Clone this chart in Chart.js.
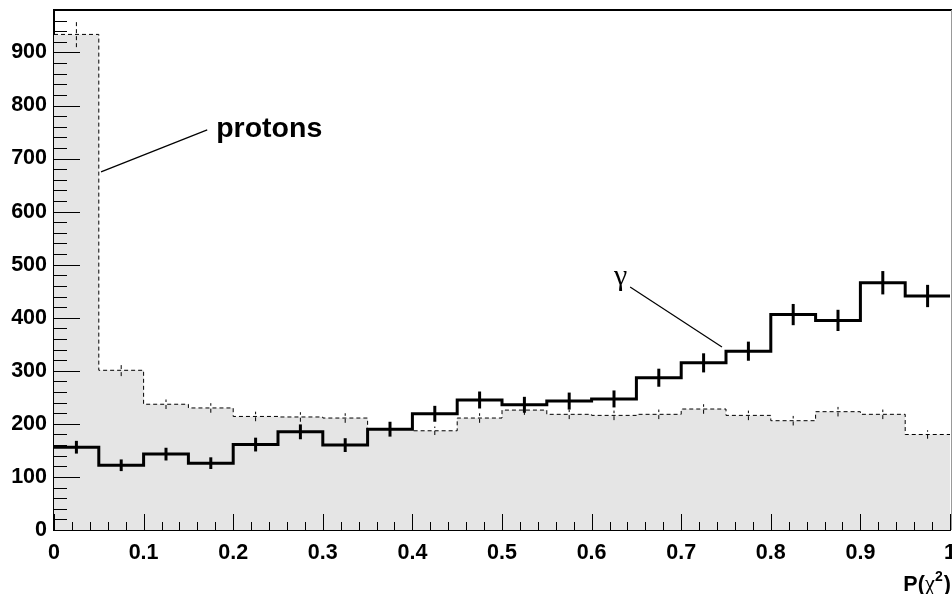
<!DOCTYPE html>
<html>
<head>
<meta charset="utf-8">
<script src="https://cdn.jsdelivr.net/npm/chart.js@4.4.1/dist/chart.umd.min.js"></script>
<style>
  html, body { margin: 0; padding: 0; background: #fff; }
  .chart__box { width: 952px; height: 594px; }
</style>
</head>
<body>
<div class="chart__box"><canvas id="chart__1"></canvas></div>
<script>
"use strict";

// ** Data
const binEdges = [0, 0.05, 0.1, 0.15, 0.2, 0.25, 0.3, 0.35, 0.4, 0.45, 0.5,
  0.55, 0.6, 0.65, 0.7, 0.75, 0.8, 0.85, 0.9, 0.95, 1];
const protonCounts = [934, 301, 237, 230, 214, 213, 211, 191, 187, 211,
  226, 218, 216, 218, 228, 216, 206, 223, 218, 180];
const protonErrors = [24, 11, 9, 9, 9, 9, 9, 8, 8, 9,
  9, 9, 9, 9, 9, 9, 9, 9, 9, 8];
const gammaCounts = [156, 122, 143, 126, 161, 185, 160, 190, 219, 245,
  236, 243, 247, 287, 315, 337, 406, 395, 466, 441];
const gammaErrors = [12, 11, 12, 11, 13, 14, 13, 14, 15, 16,
  15, 16, 16, 17, 18, 18, 20, 20, 22, 21];
const yMax = 980;
const xTitle = ["P(", "\u03c7", "2", ")"];

const boldFont = "bold 21.5px 'Liberation Sans', Arial, sans-serif";

// ** Functions

function stepPoints(counts) {
  const pts = [];
  counts.forEach((v, i) => {
    pts.push({ x: binEdges[i], y: v });
    pts.push({ x: binEdges[i + 1], y: v });
  });
  return pts;
}

function seg(ctx, x1, y1, x2, y2) {
  ctx.beginPath();
  ctx.moveTo(x1, y1);
  ctx.lineTo(x2, y2);
  ctx.stroke();
}

// error bars at bin centres
const errorBars = {
  id: "errorBars",
  afterDatasetsDraw(chart) {
    const { ctx, scales } = chart;
    const sets = [
      { counts: protonCounts, errs: protonErrors, width: 1, dash: [4, 3] },
      { counts: gammaCounts, errs: gammaErrors, width: 3, dash: [] },
    ];
    ctx.save();
    ctx.strokeStyle = "#000";
    sets.forEach((s) => {
      ctx.lineWidth = s.width;
      ctx.setLineDash(s.dash);
      s.counts.forEach((v, i) => {
        const xc = scales.x.getPixelForValue((binEdges[i] + binEdges[i + 1]) / 2);
        seg(ctx, xc, scales.y.getPixelForValue(v - s.errs[i]), xc, scales.y.getPixelForValue(v + s.errs[i]));
      });
    });
    ctx.restore();
  },
};

// ROOT style ticks pointing into the frame, frame and labels
const frameStuff = {
  id: "frameStuff",
  afterDatasetsDraw(chart) {
    const { ctx, chartArea, scales } = chart;
    const { left, right, top, bottom } = chartArea;
    ctx.save();
    ctx.strokeStyle = "#000";
    ctx.lineWidth = 1;
    for (let i = 0; i * 20 <= yMax; i++) {
      const y = Math.round(scales.y.getPixelForValue(i * 20)) + 0.5;
      seg(ctx, left, y, left + (i % 5 === 0 ? 26 : 13), y);
    }
    for (let i = 0; i <= 50; i++) {
      const x = Math.round(scales.x.getPixelForValue(i / 50)) + 0.5;
      seg(ctx, x, bottom, x, bottom - (i % 5 === 0 ? 16 : 8));
    }
    // frame
    ctx.lineWidth = 2;
    seg(ctx, left, top, chart.width, top);
    ctx.lineWidth = 1;
    ctx.strokeStyle = "#999";
    seg(ctx, chart.width - 0.5, top, chart.width - 0.5, bottom);

    // annotations
    ctx.strokeStyle = "#000";
    ctx.lineWidth = 1.2;
    const px = (v) => scales.x.getPixelForValue(v);
    const py = (v) => scales.y.getPixelForValue(v);
    seg(ctx, px(0.0525), py(675), px(0.171), py(754));
    seg(ctx, px(0.643), py(458), px(0.7455), py(345));
    ctx.fillStyle = "#000";
    ctx.textBaseline = "alphabetic";
    ctx.textAlign = "left";
    ctx.font = "bold 28.5px 'Liberation Sans', Arial, sans-serif";
    ctx.fillText("protons", px(0.181), py(740));
    ctx.font = "30px 'Liberation Serif', 'Times New Roman', serif";
    ctx.fillText("\u03b3", px(0.625), py(462));

    // axis title, right aligned
    let xr = chart.width - 1;
    const yb = 591;
    ctx.textAlign = "right";
    ctx.font = boldFont;
    ctx.fillText(xTitle[3], xr, yb);
    xr -= ctx.measureText(xTitle[3]).width;
    ctx.font = "bold 14px 'Liberation Sans', Arial, sans-serif";
    ctx.fillText(xTitle[2], xr - 1, yb - 10);
    xr -= ctx.measureText(xTitle[2]).width + 1;
    ctx.font = "23px 'Liberation Serif', 'Times New Roman', serif";
    ctx.fillText(xTitle[1], xr, yb);
    xr -= ctx.measureText(xTitle[1]).width;
    ctx.font = boldFont;
    ctx.fillText(xTitle[0], xr, yb);
    ctx.restore();
  },
};

const config = {
  type: "line",
  data: {
    datasets: [
      {
        label: "gamma",
        data: stepPoints(gammaCounts),
        borderColor: "#000",
        borderWidth: 3,
        fill: false,
        order: 0,
      },
      {
        label: "protons",
        data: stepPoints(protonCounts),
        borderColor: "#000",
        borderWidth: 1,
        borderDash: [4, 3],
        backgroundColor: "#e5e5e5",
        fill: "origin",
        order: 1,
      },
    ],
  },
  options: {
    responsive: true,
    maintainAspectRatio: false,
    animation: false,
    layout: { padding: { top: 10, right: 2, left: 0, bottom: 0 } },
    datasets: { line: { pointRadius: 0, tension: 0 } },
    plugins: { legend: { display: false }, tooltip: { enabled: false } },
    scales: {
      x: {
        type: "linear",
        min: 0,
        max: 1,
        grid: { display: false, drawTicks: false },
        border: { display: true, color: "#000", width: 2 },
        ticks: {
          stepSize: 0.1,
          padding: 10,
          color: "#000",
          font: { family: "'Liberation Sans', Arial, sans-serif", size: 21.5, weight: "bold" },
          callback: (v) => String(+v.toFixed(1)),
        },
        afterFit: (scale) => {
          scale.height = 64;
          scale.paddingLeft = 0;
          scale.paddingRight = 0;
        },
      },
      y: {
        type: "linear",
        min: 0,
        max: yMax,
        grid: { display: false, drawTicks: false },
        border: { display: true, color: "#000", width: 2 },
        ticks: {
          stepSize: 100,
          padding: 7,
          color: "#000",
          font: { family: "'Liberation Sans', Arial, sans-serif", size: 21.5, weight: "bold" },
          callback: (v) => (v % 100 === 0 ? String(v) : ""),
        },
        afterFit: (scale) => {
          scale.width = 54;
          scale.paddingTop = 0;
          scale.paddingBottom = 0;
        },
      },
    },
  },
  plugins: [errorBars, frameStuff],
};

const ctx = document.getElementById("chart__1").getContext("2d");
const chart = new Chart(ctx, config);
</script>
</body>
</html>
